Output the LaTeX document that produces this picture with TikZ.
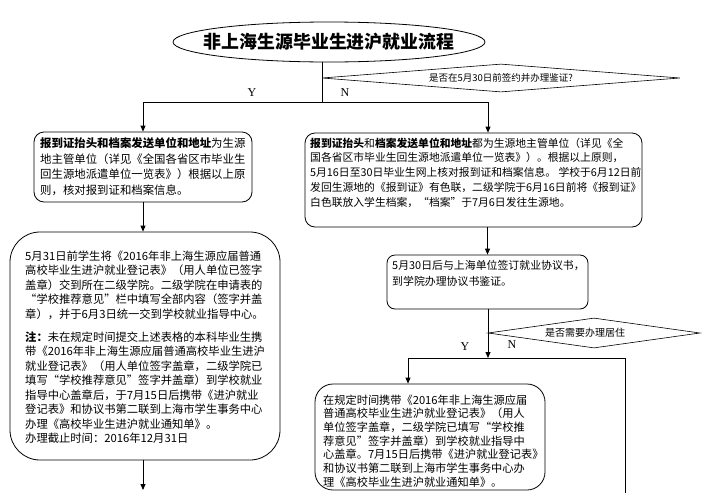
\documentclass[tikz,border=0pt]{standalone}
\usepackage{fontspec}
\setmainfont{Liberation Serif}
\newfontfamily\cjk{Noto Sans CJK SC}
\usetikzlibrary{shapes.geometric,arrows.meta,calc}
\begin{document}
\begin{tikzpicture}[x=1pt,y=-1pt,
  line/.style={draw=black, line width=0.8pt},
  arr/.style={line, -{Triangle[length=6pt,width=5pt]}},
  box/.style={draw=black, line width=0.8pt, rounded corners=10pt, inner sep=0pt},
  txt/.style={align=left, inner sep=0pt, anchor=north west},
  dia/.style={draw=black, diamond, inner sep=0pt, line width=0.6pt},
  yn/.style={font=\fontsize{12}{12}\selectfont, inner sep=0pt}]
\fill[white] (0,0) rectangle (709,493);
\useasboundingbox (0,0) rectangle (709,493);

% title
\node[draw=black, ellipse, line width=0.8pt, inner xsep=-30pt, inner ysep=0pt,
      minimum width=312pt, minimum height=40pt,
      font=\cjk\bfseries\fontsize{17.9}{18}\selectfont] (T) at (329,42) {非上海生源毕业生进沪就业流程};

% decision 1
\node[dia, aspect=13, minimum width=358pt, minimum height=28pt,
      font=\cjk\fontsize{9.5}{9.5}\selectfont] (D1) at (501,78) {是否在5月30日前签约并办理鉴证?};

% left box 1
\node[box, minimum width=218pt, minimum height=70pt] (L1) at (143,167) {};
\node[txt, font=\cjk\fontsize{11.4}{15.6}\selectfont] (L1t) at (40,137.3)
{\textbf{报到证抬头和档案发送单位和地址}为生源\\
地主管单位（详见《全国各省区市毕业生\\
回生源地派遣单位一览表》）根据以上原\\
则，核对报到证和档案信息。};

% left box 2
\node[box, rounded corners=30pt, minimum width=270pt, minimum height=228pt] (L2) at (145,346) {};
\node[txt, font=\cjk\fontsize{11.3}{14.5}\selectfont] (L2t) at (25,250.3)
{5月31日前学生将《2016年非上海生源应届普通\\
高校毕业生进沪就业登记表》（用人单位已签字\\
盖章）交到所在二级学院。二级学院在申请表的\\
“学校推荐意见”栏中填写全部内容（签字并盖\\
章），并于6月3日统一交到学校就业指导中心。\\[8.5pt]
\textbf{注：}未在规定时间提交上述表格的本科毕业生携\\
带《2016年非上海生源应届普通高校毕业生进沪\\
就业登记表》（用人单位签字盖章，二级学院已\\
填写“学校推荐意见”签字并盖章）到学校就业\\
指导中心盖章后，于7月15日后携带《进沪就业\\
登记表》和协议书第二联到上海市学生事务中心\\
办理《高校毕业生进沪就业通知单》。\\
办理截止时间：2016年12月31日};

% right box 1
\node[box, minimum width=337pt, minimum height=94pt] (R1) at (473.5,180) {};
\node[txt, font=\cjk\fontsize{10.8}{14.7}\selectfont] (R1t) at (310,137.6)
{\textbf{报到证抬头}和\textbf{档案发送单位和地址}都为生源地主管单位（详见《全\\
国各省区市毕业生回生源地派遣单位一览表》）。根据以上原则，\\
5月16日至30日毕业生网上核对报到证和档案信息。 学校于6月12日前\\
发回生源地的《报到证》有色联，二级学院于6月16日前将《报到证》\\
白色联放入学生档案，“档案”于7月6日发往生源地。};

% right box 2
\node[box, rounded corners=8pt, minimum width=201pt, minimum height=54pt] (R2) at (487.5,282) {};
\node[txt, font=\cjk\fontsize{10.9}{16}\selectfont] (R2t) at (392,260.5)
{5月30日后与上海单位签订就业协议书，\\
到学院办理协议书鉴证。};

% decision 2
\node[dia, aspect=7, minimum width=212pt, minimum height=30pt,
      font=\cjk\fontsize{10}{10}\selectfont] (D2) at (594,333) {\hspace*{-18pt}是否需要办理居住};

% right box 3
\node[box, rounded corners=18pt, minimum width=230pt, minimum height=106pt] (R3) at (430,437) {};
\node[txt, font=\cjk\fontsize{11.2}{13.7}\selectfont] (R3t) at (323,394.4)
{在规定时间携带《2016年非上海生源应届\\
普通高校毕业生进沪就业登记表》（用人\\
单位签字盖章，二级学院已填写“学校推\\
荐意见”签字并盖章）到学校就业指导中\\
心盖章。7月15日后携带《进沪就业登记表》\\
和协议书第二联到上海市学生事务中心办\\
理《高校毕业生进沪就业通知单》。};

% labels
\node[yn] (Y1) at (252,93) {Y};
\node[yn] (N1) at (345,93) {N};
\node[yn] (Y2) at (465,347) {Y};
\node[yn] (N2) at (512,345) {N};

% connectors
\coordinate (j1) at (322,102);
\coordinate (jl) at (143,102);
\coordinate (jr) at (488,102);
\draw[line] (T.south -| j1) -- (j1);
\draw[line] (jl) -- (jr);
\draw[arr] (jl) -- (L1.north);
\draw[arr] (jr) -- (jr |- R1.north);
\draw[arr] (L1.south) -- (L1.south |- L2.north);
\coordinate (lend) at (143,490);
\draw[arr] (L2.south -| lend) -- (lend);
\draw[arr] (R1.south -| R2.north) -- (R2.north);
\coordinate (j2) at (488,358);
\coordinate (j2l) at (408,358);
\coordinate (j2r) at (625,358);
\coordinate (rend) at (625,493);
\draw[arr] (R2.south -| j2) -- (j2);
\draw[line] (j2l) -- (j2r) -- (rend);
\draw[arr] (j2l) -- (j2l |- R3.north);
\end{tikzpicture}
\end{document}
